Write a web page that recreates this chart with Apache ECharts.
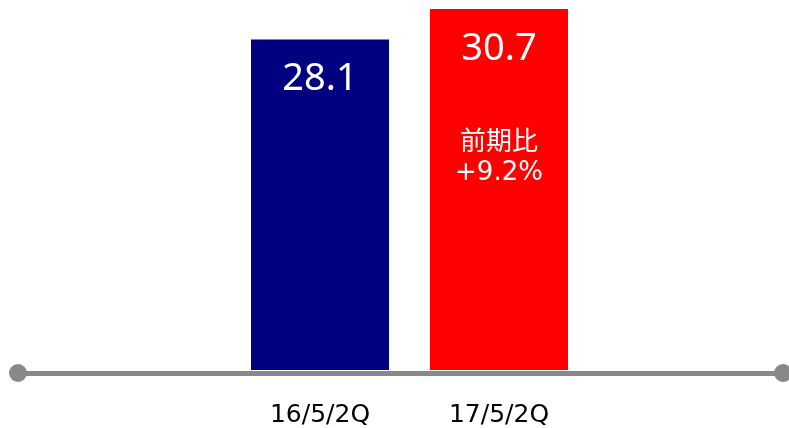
<!DOCTYPE html>
<html>
<head>
<meta charset="utf-8">
<script src="https://cdn.jsdelivr.net/npm/echarts@6/dist/echarts.min.js"></script>
<style>
  html, body { margin: 0; padding: 0; background: #fff; }
  #main { width: 789px; height: 428px; }
</style>
</head>
<body>
<div id="main"></div>
<script>
// data
const periods = ['16/5/2Q', '17/5/2Q'];
const sales = [28.1, 30.7];
const barColors = ['#000080', '#ff0000'];
const changeNote = ['前期比', '+9.2%'];

const chart = echarts.init(document.getElementById('main'));

const barData = sales.map((v, i) => {
	let item = {
		value: v,
		itemStyle: { color: barColors[i] }
	};
	if (i === 1) {
		item.label = {
			formatter: '{v|' + v.toFixed(1) + '}\n{g| }\n{s|' + changeNote[0] + '}\n{p|' + changeNote[1] + '}'
		};
	}
	return item;
});

const option = {
	animation: false,
	grid: [
		{ left: 230.5, width: 358, top: 9, bottom: 58 },
		{ left: 18, right: 6, top: 9, bottom: 55 }
	],
	xAxis: [
		{
			type: 'category',
			gridIndex: 0,
			data: periods,
			axisLine: { show: false },
			axisTick: { show: false },
			axisLabel: {
				margin: 33,
				fontSize: 25,
				color: '#000',
				fontFamily: 'DejaVu Sans'
			}
		},
		{
			type: 'value',
			gridIndex: 1,
			min: 0,
			max: 1,
			axisLine: {
				show: true,
				symbol: ['circle', 'circle'],
				symbolSize: [18, 18],
				lineStyle: { color: '#888888', width: 5 }
			},
			axisTick: { show: false },
			axisLabel: { show: false },
			splitLine: { show: false }
		}
	],
	yAxis: [
		{ type: 'value', gridIndex: 0, min: 0, max: 30.7, show: false },
		{ type: 'value', gridIndex: 1, show: false }
	],
	series: [
		{
			type: 'bar',
			xAxisIndex: 0,
			yAxisIndex: 0,
			barWidth: 138,
			data: barData,
			label: {
				show: true,
				position: 'insideTop',
				distance: 19,
				color: '#fff',
				formatter: (p) => '{v|' + p.value.toFixed(1) + '}',
				rich: {
					v: { fontSize: 38, lineHeight: 42, color: '#fff', fontFamily: 'Noto Sans' },
					g: { fontSize: 10, lineHeight: 54 },
					s: { fontSize: 26, lineHeight: 33, color: '#fff', fontFamily: 'Noto Sans CJK JP' },
					p: { fontSize: 26, lineHeight: 33, color: '#fff', fontFamily: 'DejaVu Sans' }
				}
			}
		}
	]
};

chart.setOption(option);
</script>
</body>
</html>
